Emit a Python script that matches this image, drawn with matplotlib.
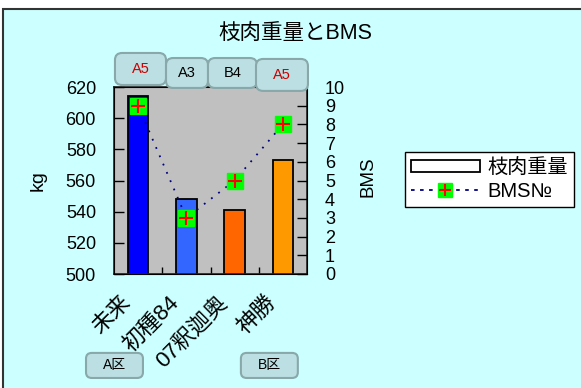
import matplotlib
matplotlib.use("Agg")
import matplotlib.pyplot as plt
from matplotlib.patches import Rectangle, FancyBboxPatch
from matplotlib.lines import Line2D
from matplotlib.transforms import blended_transform_factory, ScaledTranslation
import numpy as np

plt.rcParams['font.family'] = ['Liberation Sans', 'Noto Sans CJK JP', 'DejaVu Sans']

# ---- data ----
categories = ['未来', '初種84', '07釈迦奥', '神勝']
weights = [614, 548, 541, 573]          # 枝肉重量 (kg)
bms = [9, 3, 5, 8]                      # BMS No
grades = ['A5', 'A3', 'B4', 'A5']
grade_colors = ['#cc0000', '#000000', '#000000', '#cc0000']
bar_colors = ['#0000ff', '#3366ff', '#ff6600', '#ff9900']
regions = ['A区', 'B区']

W, H = 581, 388
fig = plt.figure(figsize=(W / 100, H / 100), dpi=100)
fig.patch.set_facecolor('white')

# background panel
bg = Rectangle((3 / W, -0.1), 1.2, 1 - 9 / H + 0.1, transform=fig.transFigure,
               facecolor='#ccffff', edgecolor='#333333', linewidth=1.5, zorder=-5)
fig.patches.append(bg)

ax = fig.add_axes([114 / W, 1 - 274 / H, 193 / W, 187 / H])
ax.set_facecolor('#c0c0c0')
x = np.arange(len(categories))
ax.bar(x, weights, width=0.43, color=bar_colors, edgecolor='black', linewidth=1.3, zorder=2)
ax.set_xlim(-0.5, 3.5)
ax.set_ylim(500, 620)
ax.set_yticks(np.arange(500, 621, 20))
ax.tick_params(axis='y', direction='in', length=7, width=1, pad=13, labelsize=13)
ax.set_xticks([])
ax.set_xticks([0.5, 1.5, 2.5], minor=True)
ax.tick_params(axis='x', which='minor', direction='in', length=5, width=1)
for s in ax.spines.values():
    s.set_linewidth(1.2)
    s.set_color('#222222')

ax2 = ax.twinx()
ax2.set_ylim(0, 10)
ax2.set_yticks(np.arange(0, 11, 1))
ax2.tick_params(axis='y', direction='in', length=7, width=1, pad=13, labelsize=13)
ax2.plot(x, bms, linestyle=(0, (1, 4)), color='#000080', linewidth=1.3, zorder=3)
ax2.plot(x, bms, linestyle='none', marker='s', markersize=11, markerfacecolor='#00ff00',
         markeredgecolor='#00ff00', zorder=4)
ax2.plot(x, bms, linestyle='none', marker='+', markersize=10, markeredgewidth=1.5,
         color='#ff0000', zorder=5)

# axis labels
ax.text(-76 / 193, 0.5, 'kg', transform=ax.transAxes, rotation=90, ha='center',
        va='center', fontsize=14)
ax.text(1 + 61 / 193, 0.52, 'BMS', transform=ax.transAxes, rotation=90, ha='center',
        va='center', fontsize=13.5)

# title
fig.text(295.5 / W, 1 - 33 / H, '枝肉重量とBMS', ha='center', va='center', fontsize=15.5)

# rotated category labels
bt = blended_transform_factory(ax.transData, ax.transAxes)
for i, c in enumerate(categories):
    tr = bt + ScaledTranslation(-18 / 100, -18 / 100, fig.dpi_scale_trans)
    ax.text(i, 0, c, transform=tr, rotation=45, rotation_mode='anchor', ha='right',
            va='top', fontsize=16)

# grade boxes above the plot
box_x = [(-0.48, 0.578), (0.578, 1.448), (1.448, 2.464), (2.443, 3.52)]
box_y = [(1.0107, 1.182), (0.995, 1.155), (0.995, 1.155), (0.979, 1.15)]
for (x0, x1), (y0, y1), g, gc in zip(box_x, box_y, grades, grade_colors):
    p = FancyBboxPatch((x0, y0), x1 - x0, y1 - y0, transform=bt,
                       boxstyle='round,pad=0,rounding_size=0.15', mutation_aspect=0.25,
                       facecolor='#bbdfe2', edgecolor='#88a8aa', linewidth=1.5,
                       clip_on=False, zorder=6)
    ax2.add_patch(p)
    ax2.text((x0 + x1) / 2, (y0 + y1) / 2, g, transform=bt, ha='center', va='center',
             fontsize=10.5, color=gc, zorder=7, clip_on=False)

# region boxes below
reg_x = [(-1.08, 0.10), (2.13, 3.31)]
for (x0, x1), r in zip(reg_x, regions):
    y0, y1 = -0.556, -0.422
    p = FancyBboxPatch((x0, y0), x1 - x0, y1 - y0, transform=bt,
                       boxstyle='round,pad=0,rounding_size=0.12', mutation_aspect=0.25,
                       facecolor='#bbdfe2', edgecolor='#88a8aa', linewidth=1.5,
                       clip_on=False, zorder=6)
    ax2.add_patch(p)
    ax2.text((x0 + x1) / 2, (y0 + y1) / 2, r, transform=bt, ha='center', va='center',
             fontsize=10, color='black', zorder=7, clip_on=False)

# legend
h1 = Rectangle((0, 0), 1, 1, facecolor='white', edgecolor='black', linewidth=1.3)
h2 = (Line2D([], [], linestyle=(0, (2, 3)), color='#000080', linewidth=1.3),
      Line2D([], [], linestyle='none', marker='s', markersize=10, markerfacecolor='#00ff00',
             markeredgecolor='#00ff00'),
      Line2D([], [], linestyle='none', marker='+', markersize=9, markeredgewidth=1.5,
             color='#ff0000'))
leg = fig.legend([h1, h2], ['枝肉重量', 'BMS№'], loc='upper left',
                 bbox_to_anchor=(405 / W, 1 - 152 / H), frameon=True, fancybox=False,
                 edgecolor='black', facecolor='white', framealpha=1, fontsize=14.5,
                 handlelength=3.4, handleheight=0.6, borderpad=0.3, labelspacing=0.25,
                 handletextpad=0.4, borderaxespad=0)
leg.get_frame().set_linewidth(1.0)

fig.savefig('out.png', dpi=100)
